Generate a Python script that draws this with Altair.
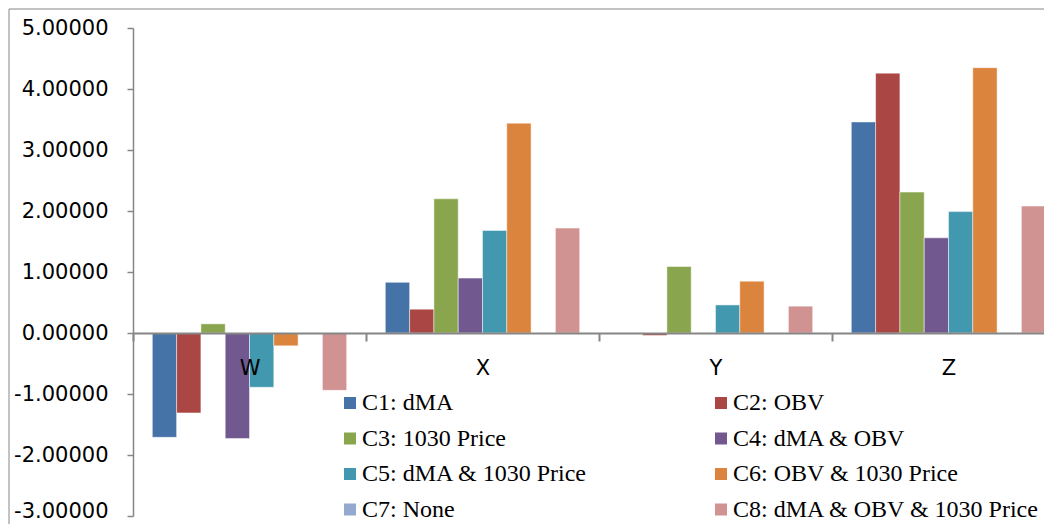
import altair as alt
import pandas as pd

categories = ["W", "X", "Y", "Z"]
series = ["C1: dMA", "C2: OBV", "C3: 1030 Price", "C4: dMA & OBV",
          "C5: dMA & 1030 Price", "C6: OBV & 1030 Price", "C7: None",
          "C8: dMA & OBV & 1030 Price"]
c1 = [-1.71, 0.83, 0.00, 3.46]
c2 = [-1.31, 0.39, -0.04, 4.26]
c3 = [0.15, 2.20, 1.09, 2.31]
c4 = [-1.73, 0.90, -0.01, 1.56]
c5 = [-0.89, 1.68, 0.46, 1.99]
c6 = [-0.21, 3.44, 0.85, 4.35]
c7 = [0.00, 0.00, 0.00, 0.00]
c8 = [-0.94, 1.72, 0.44, 2.08]
colors = ["#4572A7", "#AA4643", "#89A54E", "#71588F",
          "#4198AF", "#DB843D", "#93A9CF", "#D19392"]
y_ticks = [-3, -2, -1, 0, 1, 2, 3, 4, 5]

# legend is laid out column by column, so list entries so rows read C1 C2 / C3 C4 ...
legend_order = [0, 2, 4, 6, 1, 3, 5, 7]
legend_domain = [series[i] for i in legend_order]
legend_range = [colors[i] for i in legend_order]

rows = []
for s, vals in zip(series, [c1, c2, c3, c4, c5, c6, c7, c8]):
    for cat, v in zip(categories, vals):
        rows.append({"category": cat, "series": s, "value": v})
df = pd.DataFrame(rows)

axis_font = "DejaVu Sans"
gray = "#868686"

bars = alt.Chart(df).mark_bar(stroke="white", strokeWidth=0.8, strokeOpacity=0.6).encode(
    x=alt.X("category:N", sort=categories,
            scale=alt.Scale(range=[0, 932], paddingInner=0, paddingOuter=0),
            axis=alt.Axis(title=None, labelAngle=0, tickBand="extent", offset=-183,
                          domainColor=gray, domainWidth=2, tickColor=gray, tickWidth=2,
                          tickSize=8, labelFont=axis_font, labelFontSize=21,
                          labelColor="black", labelPadding=16, zindex=1)),
    xOffset=alt.XOffset("series:N", sort=series,
                        scale=alt.Scale(paddingInner=0, paddingOuter=0.795)),
    y=alt.Y("value:Q", scale=alt.Scale(domain=[-3, 5], nice=False),
            axis=alt.Axis(title=None, values=y_ticks,
                          labelExpr="(datum.value < 0 ? '-' : '') + format(abs(datum.value), '.5f')",
                          labelOffset={"condition": {"test": "datum.value == -3", "value": -5},
                                       "value": 0},
                          domainColor=gray, domainWidth=1.5, tickColor=gray, tickWidth=1.5,
                          tickSize=6, labelFont=axis_font, labelFontSize=21,
                          labelColor="black", labelPadding=19, grid=False)),
    color=alt.Color("series:N",
                    scale=alt.Scale(domain=legend_domain, range=legend_range),
                    legend=alt.Legend(title=None, orient="none", legendX=205, legendY=363,
                                      columns=2, columnPadding=121, rowPadding=11.5,
                                      symbolType="square", symbolSize=144,
                                      symbolStrokeWidth=0, symbolOpacity=1,
                                      labelFont="Liberation Serif", labelFontSize=24,
                                      labelColor="black", labelLimit=0, labelOffset=0,
                                      padding=0)),
)

one = pd.DataFrame({"k": [0]})
border_v = alt.Chart(one).mark_rule(color=gray, strokeWidth=1).encode(
    x=alt.value(-124), y=alt.value(-19), y2=alt.value(520))
border_h = alt.Chart(one).mark_rule(color=gray, strokeWidth=1).encode(
    x=alt.value(-124), x2=alt.value(1000), y=alt.value(-19))

chart = alt.layer(bars, border_v, border_h).properties(
    width=911, height=488,
    autosize=alt.AutoSizeParams(type="none"),
    padding={"left": 125, "top": 20, "right": 0, "bottom": 8},
    background="white",
).configure_view(stroke=None)

chart.save("out.html", embed_options={"renderer": "svg", "actions": False})
